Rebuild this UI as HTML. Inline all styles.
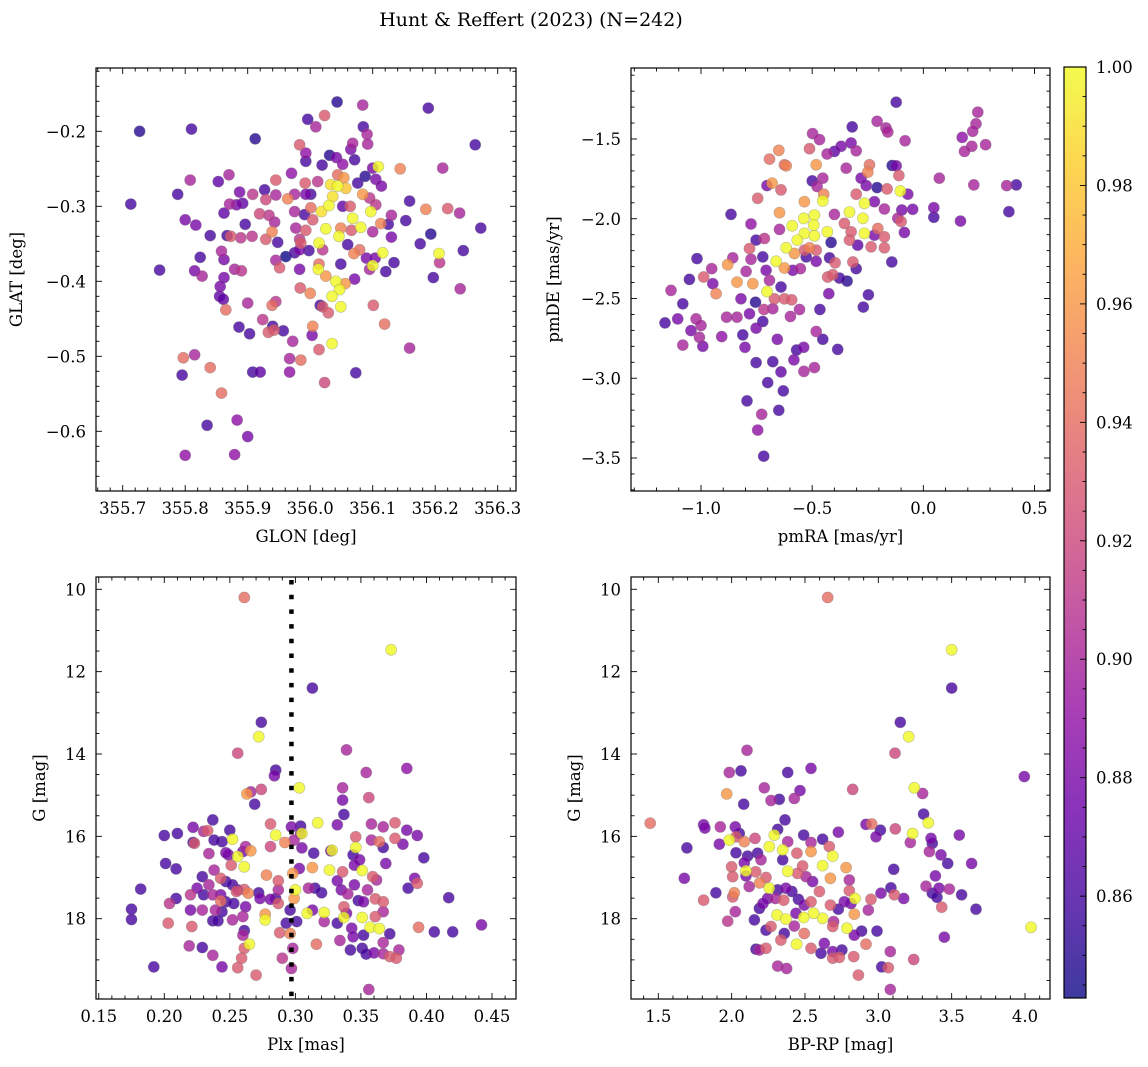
<!DOCTYPE html>
<html><head><meta charset="utf-8">
<style>
html,body{margin:0;padding:0;background:#fff;}
svg{display:block;font-family:"DejaVu Serif","Liberation Serif",serif;}
</style></head>
<body>
<svg id="fig" width="1148" height="1067" viewBox="0 0 1148 1067" xmlns="http://www.w3.org/2000/svg">
<text x="531" y="26" font-size="19" text-anchor="middle">Hunt &amp; Reffert (2023) (N=242)</text>
</svg>
<script>
// ---------- Panel 1: GLON / GLAT ----------
const p1Glon=[355.727,355.810,355.713,355.788,355.759,355.912,356.043,356.084,356.189,356.264,355.996,356.023,356.009,356.085,356.091,356.092,355.983,355.993,356.068,356.065,356.031,355.993,356.019,356.042,356.052,356.071,356.109,356.100,356.144,356.212,355.808,355.853,355.870,355.945,355.970,355.992,356.012,356.044,356.054,356.033,356.044,356.057,356.076,356.088,356.105,356.114,355.887,355.908,355.927,355.929,355.945,355.964,355.975,355.993,356.001,356.036,356.084,356.095,355.871,355.882,355.892,356.030,356.001,356.052,356.064,356.105,356.159,356.185,356.220,356.239,355.800,355.817,355.862,355.919,355.934,355.943,355.975,355.991,356.018,356.004,356.097,356.068,356.081,356.113,356.130,356.125,356.153,355.896,355.977,355.993,356.025,356.046,356.049,356.066,356.100,356.273,355.840,355.867,355.873,355.889,355.907,355.929,355.939,355.948,355.983,355.985,356.014,356.020,356.060,356.130,356.176,356.193,356.206,356.207,356.245,355.824,355.858,355.862,355.961,355.945,355.951,355.975,355.983,355.998,356.049,356.070,356.079,356.090,356.104,356.116,356.100,356.095,356.121,356.134,355.815,355.827,355.879,355.890,355.862,355.856,355.855,355.861,355.865,355.900,355.939,355.945,355.983,356.014,356.013,356.025,356.041,356.047,356.056,356.071,356.035,356.049,355.984,356.000,356.016,356.020,356.029,356.197,356.240,356.101,356.119,356.159,355.924,355.886,355.903,355.940,355.933,355.942,355.957,355.972,356.004,356.003,356.014,356.035,355.797,355.815,355.795,355.840,355.908,355.920,355.967,355.985,355.967,356.073,356.023,355.858,355.835,355.883,355.900,355.800,355.879];
const p1Glat=[-0.200,-0.197,-0.297,-0.284,-0.385,-0.210,-0.161,-0.165,-0.169,-0.218,-0.184,-0.179,-0.194,-0.194,-0.204,-0.217,-0.218,-0.229,-0.216,-0.224,-0.232,-0.240,-0.245,-0.235,-0.244,-0.238,-0.247,-0.249,-0.250,-0.249,-0.265,-0.267,-0.258,-0.265,-0.256,-0.269,-0.267,-0.258,-0.262,-0.271,-0.273,-0.276,-0.269,-0.260,-0.264,-0.273,-0.281,-0.284,-0.278,-0.291,-0.285,-0.290,-0.284,-0.284,-0.284,-0.287,-0.284,-0.289,-0.297,-0.298,-0.296,-0.299,-0.302,-0.300,-0.300,-0.298,-0.293,-0.304,-0.303,-0.309,-0.318,-0.325,-0.309,-0.310,-0.312,-0.321,-0.307,-0.311,-0.307,-0.318,-0.307,-0.316,-0.328,-0.323,-0.312,-0.324,-0.319,-0.324,-0.329,-0.332,-0.330,-0.340,-0.329,-0.332,-0.334,-0.329,-0.339,-0.339,-0.340,-0.342,-0.340,-0.344,-0.334,-0.348,-0.344,-0.349,-0.349,-0.358,-0.351,-0.341,-0.350,-0.337,-0.363,-0.375,-0.359,-0.368,-0.360,-0.371,-0.367,-0.372,-0.382,-0.362,-0.358,-0.359,-0.377,-0.363,-0.358,-0.369,-0.369,-0.362,-0.379,-0.384,-0.387,-0.375,-0.386,-0.393,-0.384,-0.386,-0.395,-0.407,-0.420,-0.424,-0.438,-0.429,-0.432,-0.427,-0.384,-0.377,-0.384,-0.393,-0.400,-0.411,-0.403,-0.397,-0.420,-0.434,-0.409,-0.416,-0.432,-0.434,-0.442,-0.395,-0.410,-0.432,-0.457,-0.489,-0.451,-0.461,-0.470,-0.460,-0.468,-0.465,-0.466,-0.480,-0.460,-0.472,-0.491,-0.483,-0.502,-0.498,-0.525,-0.515,-0.521,-0.521,-0.503,-0.505,-0.521,-0.522,-0.535,-0.549,-0.592,-0.585,-0.607,-0.632,-0.631];
const p1Prob=[0.85,0.86,0.86,0.86,0.86,0.85,0.85,0.90,0.86,0.86,0.86,0.93,0.90,0.86,0.90,0.90,0.93,0.89,0.90,0.88,0.85,0.86,0.86,0.88,0.89,0.86,1.0,0.88,0.95,0.90,0.90,0.87,0.90,0.93,0.89,0.93,0.91,0.94,0.96,0.99,1.0,0.98,0.86,0.85,0.88,0.88,0.88,0.91,0.86,0.92,0.90,0.95,0.90,0.88,0.86,0.99,0.96,0.91,0.90,0.88,0.87,1.0,0.94,0.87,0.93,0.91,0.86,0.95,0.93,0.90,0.88,0.88,0.87,0.92,0.91,0.90,0.90,0.86,0.99,0.93,1.0,1.0,1.0,0.95,0.90,0.86,0.86,0.86,0.90,0.93,1.0,1.0,0.95,0.93,0.90,0.86,0.86,0.86,0.93,0.91,0.91,0.93,0.95,0.86,0.91,0.93,1.0,0.91,0.86,0.88,0.86,0.85,1.0,0.91,0.86,0.86,0.90,0.88,0.84,0.90,0.93,0.86,0.88,0.86,0.86,0.95,0.94,0.88,0.88,1.0,1.0,0.90,0.86,0.86,0.88,0.90,0.90,0.91,0.88,0.88,0.87,0.87,0.94,0.90,0.94,0.91,0.88,0.94,1.0,0.96,1.0,1.0,0.96,0.88,1.0,1.0,0.93,0.95,0.86,0.93,0.93,0.86,0.90,0.93,0.94,0.90,0.91,0.86,0.86,0.86,0.93,0.93,0.86,0.90,0.95,0.88,0.93,1.0,0.94,0.90,0.86,0.94,0.86,0.87,0.90,0.94,0.89,0.86,0.92,0.94,0.86,0.89,0.88,0.89,0.89];

// ---------- Panel 2: pmRA / pmDE ----------
const p2Pmra=[-0.122,-0.320,-0.208,-0.168,-0.160,-0.082,-0.498,-0.467,-0.325,-0.370,-0.400,-0.433,-0.302,-0.650,-0.512,-0.692,-0.617,-0.625,-0.482,-0.347,-0.242,-0.250,-0.140,-0.122,-0.110,0.245,0.237,0.222,0.175,0.218,0.280,0.185,0.072,0.227,0.375,0.418,0.385,0.167,0.047,0.047,-0.048,-0.070,-0.103,-0.163,-0.208,-0.257,-0.280,-0.302,-0.265,-0.220,-0.175,-0.097,-0.115,-0.100,-0.085,-0.142,-0.332,-0.272,-0.265,-0.355,-0.325,-0.332,-0.295,-0.235,-0.205,-0.175,-0.175,-0.220,-0.400,-0.415,-0.448,-0.452,-0.535,-0.452,-0.500,-0.478,-0.680,-0.703,-0.640,-0.745,-0.647,-0.865,-0.775,-0.647,-0.590,-0.538,-0.490,-0.493,-0.535,-0.490,-0.432,-0.567,-0.617,-0.580,-0.662,-0.625,-0.512,-0.535,-0.482,-0.527,-0.482,-0.422,-0.397,-0.553,-0.587,-0.430,-0.407,-0.377,-0.343,-0.317,-0.302,-0.715,-0.752,-0.782,-0.775,-0.722,-0.707,-0.692,-0.640,-0.703,-0.767,-0.838,-0.797,-0.857,-0.880,-0.670,-0.625,-0.592,-0.425,-0.247,-0.270,-0.465,-0.557,-0.598,-0.820,-0.755,-0.782,-0.722,-0.717,-0.677,-0.838,-0.885,-0.752,-0.812,-0.907,-0.802,-0.657,-0.482,-0.452,-0.385,-0.570,-0.538,-0.582,-0.537,-0.490,-0.677,-0.640,-0.752,-0.700,-0.630,-0.793,-0.650,-0.727,-0.745,-0.718,-1.135,-1.018,-1.052,-0.952,-0.988,-0.947,-0.932,-1.082,-1.162,-1.105,-1.045,-1.022,-1.000,-1.082,-0.992,-1.007];
const p2Pmde=[-1.269,-1.424,-1.389,-1.431,-1.456,-1.511,-1.466,-1.504,-1.525,-1.546,-1.578,-1.594,-1.574,-1.571,-1.561,-1.626,-1.668,-1.662,-1.662,-1.683,-1.662,-1.708,-1.666,-1.668,-1.729,-1.332,-1.405,-1.452,-1.490,-1.546,-1.536,-1.578,-1.746,-1.788,-1.792,-1.788,-1.956,-2.015,-1.931,-1.991,-1.941,-1.846,-1.826,-1.813,-1.805,-1.792,-1.746,-1.846,-1.903,-1.893,-1.939,-1.945,-1.997,-2.018,-2.086,-2.271,-1.958,-1.997,-2.092,-2.029,-2.082,-2.134,-2.166,-2.176,-2.061,-2.113,-2.182,-2.103,-1.973,-2.149,-1.846,-1.888,-1.893,-1.746,-1.763,-1.798,-1.777,-1.792,-1.819,-1.872,-1.962,-1.973,-2.033,-2.067,-2.044,-1.998,-1.977,-2.040,-2.092,-2.107,-2.082,-2.134,-2.182,-2.218,-2.267,-2.309,-2.182,-2.197,-2.197,-2.239,-2.267,-2.245,-2.276,-2.313,-2.323,-2.365,-2.351,-2.372,-2.391,-2.271,-2.313,-2.124,-2.134,-2.187,-2.254,-2.239,-2.323,-2.386,-2.428,-2.456,-2.407,-2.397,-2.330,-2.245,-2.288,-2.502,-2.502,-2.508,-2.470,-2.477,-2.554,-2.569,-2.569,-2.613,-2.502,-2.523,-2.596,-2.644,-2.569,-2.564,-2.617,-2.617,-2.686,-2.728,-2.739,-2.806,-2.756,-2.707,-2.756,-2.819,-2.823,-2.806,-2.885,-2.957,-2.933,-2.896,-2.960,-2.902,-3.027,-3.079,-3.142,-3.201,-3.226,-3.325,-3.489,-2.449,-2.250,-2.380,-2.313,-2.365,-2.407,-2.470,-2.533,-2.653,-2.628,-2.701,-2.628,-2.669,-2.792,-2.800,-2.743];
const p2Prob=[0.86,0.86,0.90,0.90,0.90,0.90,0.90,0.90,0.88,0.88,0.87,0.90,0.90,0.95,0.93,0.94,0.95,0.94,0.96,0.90,0.94,0.95,0.85,0.88,0.93,0.90,0.90,0.90,0.89,0.90,0.90,0.90,0.90,0.90,0.90,0.86,0.86,0.88,0.88,0.86,0.88,0.88,1.0,0.93,0.85,0.88,0.88,0.93,1.0,0.88,0.90,0.88,0.90,0.93,0.88,0.86,1.0,1.0,1.0,0.93,0.93,0.93,0.87,0.93,0.94,0.93,0.93,0.88,0.90,0.85,0.95,1.0,0.96,0.90,0.86,0.90,0.96,0.88,0.93,0.93,0.96,0.86,0.89,0.90,1.0,1.0,1.0,1.0,1.0,1.0,1.0,1.0,1.0,0.96,1.0,0.96,0.95,0.93,0.93,0.86,0.88,0.86,0.93,0.90,0.88,0.93,0.93,0.86,0.85,0.93,0.86,0.91,0.86,0.93,0.90,0.86,0.88,0.90,0.86,1.0,0.96,0.96,0.90,0.90,0.96,0.93,0.93,0.93,0.88,0.86,0.86,0.86,0.90,0.90,0.88,0.85,0.88,0.86,0.91,0.90,0.90,0.90,0.88,0.86,0.89,0.88,0.88,0.90,0.86,0.86,0.86,0.88,0.88,0.90,0.90,0.86,0.87,0.86,0.86,0.86,0.86,0.86,0.90,0.89,0.86,0.90,0.86,0.86,0.90,0.93,0.88,0.95,0.86,0.86,0.88,0.88,0.90,0.90,0.90,0.88,0.90];

// ---------- Panel 3: Plx / G ----------
const p3Plx=[0.261,0.373,0.313,0.274,0.272,0.256,0.339,0.385,0.285,0.284,0.354,0.303,0.263,0.266,0.274,0.269,0.336,0.336,0.356,0.337,0.317,0.332,0.358,0.367,0.376,0.385,0.393,0.398,0.369,0.376,0.382,0.364,0.367,0.358,0.346,0.346,0.344,0.349,0.351,0.345,0.359,0.362,0.391,0.393,0.386,0.417,0.394,0.406,0.420,0.442,0.328,0.327,0.314,0.304,0.305,0.304,0.297,0.281,0.285,0.281,0.292,0.299,0.305,0.313,0.326,0.336,0.332,0.335,0.340,0.345,0.355,0.361,0.352,0.348,0.367,0.367,0.361,0.351,0.357,0.364,0.372,0.337,0.337,0.339,0.332,0.343,0.344,0.334,0.352,0.367,0.342,0.351,0.354,0.360,0.367,0.372,0.377,0.379,0.356,0.322,0.322,0.316,0.309,0.313,0.320,0.315,0.310,0.301,0.298,0.297,0.290,0.296,0.288,0.296,0.293,0.300,0.299,0.298,0.303,0.287,0.287,0.285,0.287,0.278,0.272,0.273,0.281,0.277,0.277,0.264,0.261,0.262,0.260,0.261,0.260,0.265,0.261,0.259,0.256,0.270,0.260,0.266,0.262,0.256,0.261,0.252,0.251,0.249,0.250,0.247,0.244,0.238,0.237,0.233,0.230,0.222,0.222,0.223,0.234,0.210,0.200,0.201,0.209,0.238,0.229,0.243,0.247,0.252,0.256,0.255,0.225,0.234,0.230,0.243,0.243,0.237,0.247,0.253,0.220,0.209,0.204,0.229,0.220,0.239,0.244,0.252,0.237,0.241,0.221,0.203,0.175,0.175,0.182,0.192,0.219,0.229,0.237,0.244];
const p3G=[10.2,11.47,12.40,13.23,13.58,13.98,13.90,14.35,14.39,14.53,14.45,14.82,14.97,14.92,14.86,15.22,14.82,15.12,15.06,15.47,15.67,15.72,15.70,15.77,15.67,15.85,15.98,16.52,16.66,16.05,16.19,16.13,16.27,16.09,16.01,16.27,16.45,16.57,16.83,16.70,16.98,17.06,17.02,17.14,17.26,17.49,18.21,18.32,18.32,18.15,16.34,16.35,16.41,15.93,15.93,15.75,15.77,15.70,15.97,16.25,16.15,16.09,16.28,16.76,16.82,16.86,17.08,17.30,17.40,17.18,17.30,17.52,17.59,17.56,17.59,17.83,17.95,17.97,18.21,18.24,18.37,17.97,17.71,17.87,18.11,18.23,18.44,18.53,18.40,18.58,18.76,18.72,18.86,18.83,18.85,18.92,18.96,18.76,19.72,17.85,18.07,18.62,17.87,17.79,17.37,17.26,17.26,18.07,18.72,19.21,18.96,18.36,18.34,17.79,18.11,17.30,17.51,16.90,16.78,17.08,17.30,17.51,17.63,16.94,17.37,17.51,17.53,17.89,18.03,17.38,17.29,17.71,17.95,18.29,18.40,18.62,18.72,18.96,19.19,19.37,16.37,16.35,16.25,16.49,16.74,16.07,16.70,16.45,15.85,16.40,16.13,16.09,15.60,15.86,15.88,15.78,16.15,16.17,16.42,15.93,15.98,16.66,16.79,16.82,16.98,17.02,17.10,17.18,17.30,17.34,17.26,17.18,17.42,17.42,17.57,17.42,17.59,17.63,17.42,17.51,17.63,17.79,17.79,17.79,17.83,18.03,18.05,18.05,18.19,18.11,17.77,18.02,17.28,19.17,18.66,18.70,18.89,19.17];
const p3Prob=[0.94,1.0,0.86,0.86,1.0,0.92,0.90,0.89,0.86,0.88,0.90,1.0,0.96,0.90,0.92,0.86,0.90,0.88,0.92,0.86,1.0,0.88,0.90,0.90,0.93,0.88,0.88,0.86,0.88,0.93,0.88,0.94,0.86,0.90,0.93,1.0,0.86,0.88,1.0,0.88,0.93,0.90,0.88,0.93,0.86,0.86,0.94,0.86,0.86,0.88,1.0,0.88,0.86,0.88,1.0,0.86,0.88,0.93,1.0,0.92,0.95,0.90,0.88,0.96,1.0,0.93,0.88,0.88,0.90,0.88,0.90,0.93,0.88,0.86,0.93,0.90,0.93,1.0,1.0,1.0,0.86,1.0,0.93,0.88,0.86,0.88,0.88,0.90,0.86,0.90,0.86,0.86,0.86,0.88,0.90,0.93,0.93,0.90,0.90,1.0,0.90,0.94,1.0,0.88,0.86,0.86,0.90,0.86,0.90,0.90,0.91,0.95,0.93,0.86,0.86,1.0,0.96,0.96,0.88,0.93,0.90,0.86,0.93,0.95,0.86,0.88,0.88,0.96,1.0,0.95,0.93,0.88,0.90,0.86,0.90,1.0,0.93,0.93,0.93,0.93,0.88,0.96,0.90,1.0,1.0,1.0,0.93,0.88,0.86,0.88,0.86,0.86,0.86,0.93,0.90,0.88,0.86,0.93,0.90,0.86,0.86,0.86,0.86,0.90,0.86,0.93,0.86,0.86,0.88,0.93,0.88,0.90,0.86,0.88,0.94,0.90,0.86,0.86,0.91,0.86,0.91,0.90,0.88,0.90,0.86,0.90,0.86,0.86,0.93,0.93,0.86,0.86,0.86,0.86,0.90,0.86,0.90,0.88];

// ---------- Panel 4: BP-RP / G ----------
const p4Bprp=[2.655,3.50,3.50,3.15,3.207,3.114,3.995,2.105,1.984,2.064,2.382,2.541,1.966,2.082,2.223,2.268,2.325,2.427,2.466,2.825,3.245,3.302,3.309,3.341,3.234,3.218,3.359,3.368,3.348,3.427,3.473,3.552,3.636,3.389,3.325,3.368,3.414,3.484,3.400,3.568,3.432,3.666,4.041,3.45,3.105,3.086,3.109,3.173,3.018,3.116,3.014,2.984,2.916,2.955,2.727,2.95,2.932,2.991,2.916,3.082,3.241,3.023,3.068,3.082,2.864,2.886,2.836,2.786,2.836,2.841,2.814,2.768,2.802,2.780,2.802,2.727,2.695,2.673,2.620,2.559,2.491,2.495,2.443,2.541,2.609,2.632,2.689,2.752,2.689,2.734,2.832,2.359,2.336,2.268,2.234,2.166,2.234,2.189,2.314,2.375,2.155,2.309,2.370,2.427,2.439,2.495,2.541,2.455,2.411,2.355,2.298,2.245,2.214,2.189,2.257,2.314,2.370,2.382,2.450,2.484,2.507,2.552,2.598,2.620,2.673,2.689,2.666,2.620,2.541,2.541,2.445,2.491,2.382,2.348,2.348,2.291,2.314,2.364,2.257,2.200,2.177,2.109,2.086,2.098,2.164,2.191,2.234,2.120,2.098,2.0,2.007,2.018,2.007,2.025,1.973,1.893,1.809,1.677,1.695,1.445,1.809,1.818,1.916,1.923,1.984,2.030,2.025,2.052,2.086,2.030,2.159,2.689];
const p4G=[10.2,11.47,12.40,13.23,13.58,13.98,14.55,13.91,14.45,14.41,14.45,14.35,14.97,15.22,14.82,15.13,15.10,15.08,14.89,14.86,14.82,14.96,15.46,15.67,15.93,16.15,16.05,16.17,16.37,16.45,16.66,15.97,16.66,16.96,17.21,17.38,17.26,17.28,17.48,17.42,17.72,17.77,18.21,18.45,16.80,17.25,17.42,17.51,17.38,15.82,15.85,16.01,15.71,15.70,15.90,17.53,17.79,18.30,18.62,18.80,18.99,19.17,19.19,19.72,19.37,18.30,18.40,18.23,17.89,17.51,17.63,17.59,17.06,16.76,17.32,17.77,18.07,17.67,17.99,17.87,17.97,18.36,18.62,18.72,18.84,18.60,18.80,18.76,18.96,18.94,18.92,18.36,18.52,18.19,18.28,18.74,18.72,18.76,19.15,19.21,18.03,17.91,18.01,18.18,17.87,17.67,17.59,17.53,17.34,17.55,17.51,17.51,17.63,17.75,17.26,17.30,17.26,16.85,16.90,16.72,16.98,17.10,17.34,16.71,17.02,16.48,16.25,16.07,16.15,16.37,16.41,15.97,16.13,16.33,16.57,15.97,15.83,15.60,16.25,16.57,16.41,16.48,16.64,16.84,16.86,17.13,17.00,17.22,16.96,16.74,16.98,17.37,17.47,17.83,18.06,17.37,17.55,17.02,16.28,15.68,15.72,15.80,16.19,15.77,16.09,16.01,15.77,15.93,16.13,16.40,16.05,18.19];
const p4Prob=[0.94,1.0,0.86,0.86,1.0,0.92,0.88,0.90,0.90,0.86,0.86,0.88,0.96,0.86,0.90,0.90,0.86,0.90,0.88,0.92,1.0,0.90,0.86,1.0,1.0,0.90,0.88,0.86,0.90,0.88,0.86,0.88,0.88,0.88,0.90,0.86,0.88,0.90,0.86,0.86,0.93,0.86,1.0,0.88,0.86,0.86,0.93,0.88,0.88,0.92,0.86,0.88,0.88,0.94,0.88,0.93,0.90,0.86,0.94,0.90,0.92,0.86,0.93,0.90,0.93,0.86,0.88,1.0,0.96,1.0,0.88,0.88,0.90,0.96,0.93,0.86,0.90,0.93,1.0,1.0,1.0,0.94,1.0,0.93,0.86,0.88,0.88,0.86,0.93,0.93,0.93,0.86,0.93,0.93,0.86,0.86,0.93,0.90,0.90,0.90,0.86,1.0,1.0,0.90,0.88,0.88,0.93,0.86,0.86,0.93,0.90,0.88,0.88,0.86,1.0,0.86,0.88,1.0,0.93,0.93,0.90,0.88,0.93,1.0,0.96,1.0,0.93,0.86,0.90,0.96,0.93,0.86,0.90,1.0,0.86,1.0,0.86,0.86,1.0,0.90,0.86,0.86,0.88,1.0,0.93,0.95,0.93,0.90,0.88,0.93,0.93,0.95,0.93,0.90,0.91,0.86,0.93,0.88,0.86,0.94,0.88,0.88,0.88,0.90,1.0,0.93,0.88,0.86,0.95,0.86,0.92,0.93];

const cbTicks=[0.86,0.88,0.90,0.92,0.94,0.96,0.98,1.00];
const plxLine=0.297;

const NS='http://www.w3.org/2000/svg';
const svg=document.getElementById('fig');
const VMIN=0.8428,VMAX=1.0;
const FS=16.5;
const stops=[[13,8,135],[65,4,157],[106,0,168],[143,13,164],[177,42,144],[204,71,120],[225,100,98],[242,132,75],[252,166,54],[252,206,37],[240,249,33]];
function plasma(v){let t=(v-VMIN)/(VMAX-VMIN);t=Math.max(0,Math.min(1,t));const f=t*10,i=Math.min(9,Math.floor(f)),r=f-i;const a=stops[i],b=stops[i+1];return 'rgb('+[0,1,2].map(k=>Math.round(a[k]+(b[k]-a[k])*r)).join(',')+')';}
function el(tag,attrs,parent){const e=document.createElementNS(NS,tag);for(const k in attrs)e.setAttribute(k,attrs[k]);(parent||svg).appendChild(e);return e;}
function lin(d0,p0,d1,p1){return v=>p0+(v-d0)*(p1-p0)/(d1-d0);}
function inv(d0,p0,d1,p1){return p=>d0+(p-p0)*(d1-d0)/(p1-p0);}
function fmt(v,d){const s=Math.abs(v).toFixed(d);return (v<-1e-9?'\u2212':'')+s;}

function panel(cfg){
  const g=el('g',{});
  
  
  const {x0,x1,y0,y1}=cfg.box;
  const sx=lin(...cfg.xa),sy=lin(...cfg.ya);
  const ix=inv(...cfg.xa),iy=inv(...cfg.ya);
  const clipId='clip-'+cfg.name;
  const cp=el('clipPath',{id:clipId},g);el('rect',{x:x0,y:y0,width:x1-x0,height:y1-y0},cp);
  const pts=el('g',{'clip-path':'url(#'+clipId+')'},g);
  
  
  const xs=cfg.xs,ys=cfg.ys,cs=cfg.cs;
  const order=cs.map((c,i)=>i).sort((a,b)=>cs[a]-cs[b]);
  order.forEach(i=>{
    const c=el('circle',{cx:sx(xs[i]).toFixed(1),cy:sy(ys[i]).toFixed(1),r:5.6,fill:plasma(cs[i]),'fill-opacity':0.8,stroke:'#777','stroke-opacity':0.45,'stroke-width':0.6},pts);
    
    
  });
  if(cfg.extra)cfg.extra(g,sx,sy);
  const fr=el('rect',{x:x0,y:y0,width:x1-x0,height:y1-y0,fill:'none',stroke:'#000','stroke-width':1.2},g);
  
  
  const dl=ix(x0),dr=ix(x1);
  const xstart=Math.ceil(dl/cfg.xminor-1e-6);
  for(let k=xstart;k*cfg.xminor<=dr+1e-9;k++){
    const v=k*cfg.xminor;const px=sx(v);
    const major=Math.abs(v/cfg.xmajor-Math.round(v/cfg.xmajor))<1e-6;
    const L=major?6:3.5;
    el('line',{x1:px,y1:y1,x2:px,y2:y1-L,stroke:'#000','stroke-width':0.9},g);
    el('line',{x1:px,y1:y0,x2:px,y2:y0+L,stroke:'#000','stroke-width':0.9},g);
    if(major){const t=el('text',{x:px,y:y1+23,'font-size':FS,'text-anchor':'middle'},g);t.textContent=fmt(v,cfg.xdec);
      }
  }
  const dt=iy(y0),db=iy(y1);const lo=Math.min(dt,db),hi=Math.max(dt,db);
  const ystart=Math.ceil(lo/cfg.yminor-1e-6);
  for(let k=ystart;k*cfg.yminor<=hi+1e-9;k++){
    const v=k*cfg.yminor;const py=sy(v);
    const major=Math.abs(v/cfg.ymajor-Math.round(v/cfg.ymajor))<1e-6;
    const L=major?6:3.5;
    el('line',{x1:x0,y1:py,x2:x0+L,y2:py,stroke:'#000','stroke-width':0.9},g);
    el('line',{x1:x1,y1:py,x2:x1-L,y2:py,stroke:'#000','stroke-width':0.9},g);
    if(major){const t=el('text',{x:x0-10,y:py+6,'font-size':FS,'text-anchor':'end'},g);t.textContent=fmt(v,cfg.ydec);
      }
  }
  const xl=el('text',{x:(x0+x1)/2,y:y1+51,'font-size':FS,'text-anchor':'middle'},g);xl.textContent=cfg.xlabel;
  
  const yx=cfg.ylx,yc=(y0+y1)/2;
  const yl=el('text',{x:yx,y:yc,'font-size':FS,'text-anchor':'middle',transform:'rotate(-90 '+yx+' '+yc+')'},g);yl.textContent=cfg.ylabel;
  
}

panel({name:'glon-glat-panel',box:{x0:96,x1:516,y0:68,y1:491},xa:[355.7,122.7,356.3,497.7],ya:[-0.2,131.3,-0.6,431.3],
  xs:p1Glon,ys:p1Glat,cs:p1Prob,xminor:0.02,xmajor:0.1,xdec:1,yminor:0.02,ymajor:0.1,ydec:1,xlabel:'GLON [deg]',ylabel:'GLAT [deg]',ylx:22});
panel({name:'pm-panel',box:{x0:631,x1:1050,y0:68,y1:491},xa:[-1.0,701,0.5,1034.5],ya:[-1.5,139,-3.5,458],
  xs:p2Pmra,ys:p2Pmde,cs:p2Prob,xminor:0.1,xmajor:0.5,xdec:1,yminor:0.1,ymajor:0.5,ydec:1,xlabel:'pmRA [mas/yr]',ylabel:'pmDE [mas/yr]',ylx:559});
panel({name:'plx-g-panel',box:{x0:96,x1:516,y0:577,y1:999},xa:[0.20,164.3,0.45,492],ya:[10,589.3,18,918.7],
  xs:p3Plx,ys:p3G,cs:p3Prob,xminor:0.01,xmajor:0.05,xdec:2,yminor:0.5,ymajor:2,ydec:0,xlabel:'Plx [mas]',ylabel:'G [mag]',ylx:45,
  extra:(g,sx,sy)=>{const l=el('line',{x1:sx(plxLine),y1:580,x2:sx(plxLine),y2:999,stroke:'#000','stroke-width':4.5,'stroke-dasharray':'4.5 10.2'},g);
    }});
panel({name:'cmd-panel',box:{x0:631,x1:1050,y0:577,y1:999},xa:[1.5,658.3,4.0,1025],ya:[10,589.3,18,918.7],
  xs:p4Bprp,ys:p4G,cs:p4Prob,xminor:0.1,xmajor:0.5,xdec:1,yminor:0.5,ymajor:2,ydec:0,xlabel:'BP-RP [mag]',ylabel:'G [mag]',ylx:580});

(function(){
  const g=el('g',{});
  
  
  const x0=1064,x1=1086,yT=67,yB=998;
  const defs=el('defs',{},g);
  const grad=el('linearGradient',{id:'cbg',x1:0,y1:1,x2:0,y2:0},defs);
  for(let i=0;i<=20;i++){const v=VMIN+(VMAX-VMIN)*i/20;el('stop',{offset:(i/20),'stop-color':plasma(v),'stop-opacity':0.8},grad);}
  el('rect',{x:x0,y:yT,width:x1-x0,height:yB-yT,fill:'url(#cbg)'},g);
  el('rect',{x:x0,y:yT,width:x1-x0,height:yB-yT,fill:'none',stroke:'#000','stroke-width':1.2},g);
  const sy=v=>yB-(v-VMIN)/(VMAX-VMIN)*(yB-yT);
  for(let v=0.845;v<=1.0001;v+=0.005){
    const major=cbTicks.some(t=>Math.abs(t-v)<1e-6);
    el('line',{x1:x1,y1:sy(v),x2:x1-(major?6:3.5),y2:sy(v),stroke:'#000','stroke-width':0.9},g);
  }
  cbTicks.forEach(v=>{const t=el('text',{x:1096,y:sy(v)+6,'font-size':FS},g);t.textContent=v.toFixed(2);
    });
})();
</script>
</body></html>
